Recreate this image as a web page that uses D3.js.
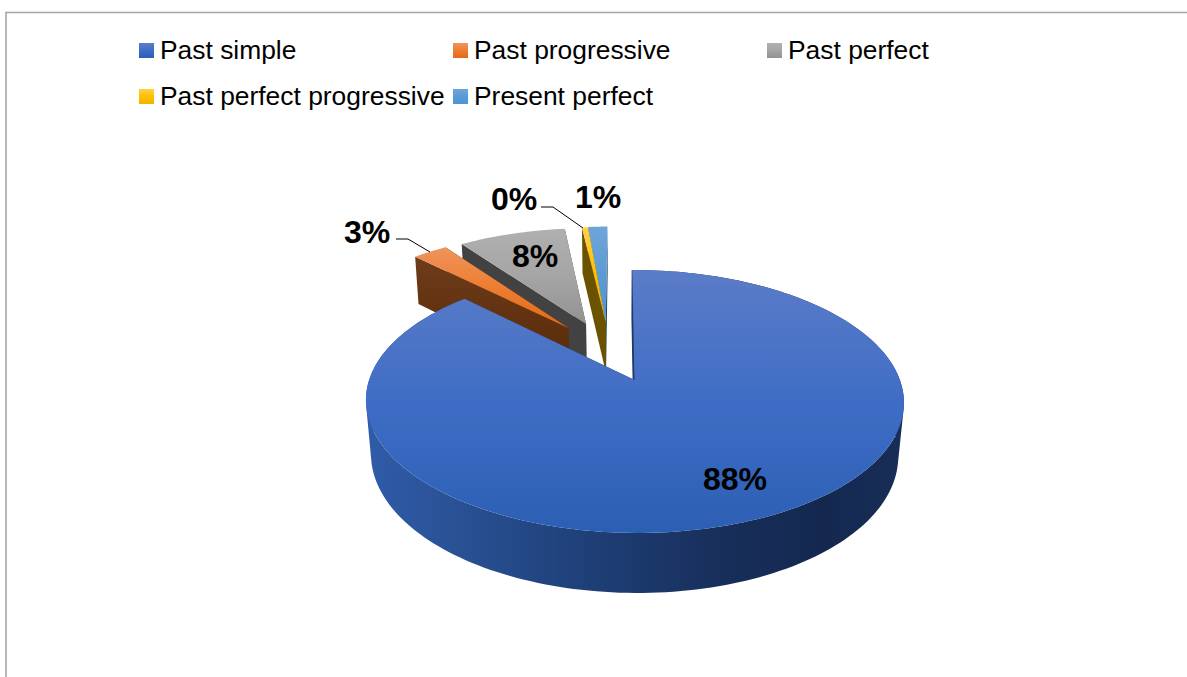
<!DOCTYPE html>
<html><head><meta charset="utf-8">
<script src="https://d3js.org/d3.v7.min.js"></script>
<style>html,body{margin:0;padding:0;background:#fff}svg{display:block}text{font-family:"Liberation Sans",Arial,sans-serif;fill:#000}</style>
</head><body><svg id="c" width="1187" height="677"></svg>
<script>
const categories = ["Past simple","Past progressive","Past perfect","Past perfect progressive","Present perfect"];
const shares = [87.5, 2.6, 8.0, 0.45, 1.45];
const labelRounded = [88, 3, 8, 0, 1];

// appearance and layout
const explodeU = [0, -0.262, -0.192, -0.112, -0.112];
const explodeV = [0, 0.435, 0.471, 0.485, 0.49];
const topColors = [["#5b7cc8","#3f6dc5","#2b5fb4"],["#f0945c","#ed7d31","#e06a18"],["#b0b0b0","#a5a5a5","#929292"],["#ffd04a","#ffc000","#f0b400"],["#6fa5d9","#5b9bd5","#4a94d8"]];
const startFace = ["#1f3864","#5f2f0f","#424242","#6b5200","#2b5a88"];
const endFace = ["#1f3864","#5f2f0f","#424242","#6b5200","#1e3f60"];
const legendX = [139,453,767], legendY = [43,89];
const labelPos = [[735,490],[367,243],[535,267],[514,210],[598,208]];
const leaders = [null,[[396,239],[408,239],[430,252]],null,[[541,207],[553,207],[583,228]],null];

const R=265.4, A=128, P=0.163, Q=0.02, D=54.5, CX=618.5, OX=16, CY=380;
function project(u,v,z){
  const k=1/(1+P*v+Q*z);
  return [CX+(R*u+OX)*k, CY-A*v*k+D*z*k];
}
const svg=d3.select("#c"), defs=svg.append("defs");
const line=d3.line();

function vgrad(id,cols,y1,y2){
  const g=defs.append("linearGradient").attr("id",id).attr("gradientUnits","userSpaceOnUse").attr("x1",0).attr("x2",0).attr("y1",y1).attr("y2",y2);
  cols.forEach((c,i)=>g.append("stop").attr("offset",i/(cols.length-1)).attr("stop-color",c));
}
const wall=defs.append("linearGradient").attr("id","wall").attr("gradientUnits","userSpaceOnUse").attr("x1",368).attr("x2",904).attr("y1",0).attr("y2",0);
[[0,"#2f5ba8"],[0.15,"#2a5296"],[0.4,"#1f4078"],[0.65,"#182f5c"],[0.85,"#14284f"],[1,"#182e58"]].forEach(s=>wall.append("stop").attr("offset",s[0]).attr("stop-color",s[1]));
vgrad("sideO",["#6e3d1c","#5c2d0b"],250,350);

// frame
svg.append("path").attr("d","M6,677V12.5H1187").attr("fill","none").attr("stroke","#a6a6a6").attr("stroke-width",1.6);

// legend
categories.forEach((c,i)=>{
  const col=i<3?i:i-3, row=i<3?0:1;
  const x=legendX[col], y=legendY[row];
  vgrad("lg"+i,topColors[i],y,y+15);
  svg.append("rect").attr("x",x).attr("y",y).attr("width",15).attr("height",15).attr("fill",`url(#lg${i})`);
  svg.append("text").attr("x",x+21).attr("y",y+16).attr("font-size",26.4).text(c);
});

// pie
const arcs=d3.pie().sort(null).value(d=>d)(shares);
const steps=d3.scaleLinear().domain([0,1]);
function rimPoints(a,ou,ov,z){
  steps.range([a.startAngle,a.endAngle]);
  const n=Math.max(2,Math.ceil((a.endAngle-a.startAngle)*40));
  return d3.range(n+1).map(i=>{const t=steps(i/n);return project(ou+Math.sin(t),ov+Math.cos(t),z);});
}
const order=[4,3,2,1,0];
order.forEach(i=>{
  const a=arcs[i], ou=explodeU[i], ov=explodeV[i];
  const rim=rimPoints(a,ou,ov,0), rimB=rimPoints(a,ou,ov,1);
  const apex=project(ou,ov,0), apexB=project(ou,ov,1);
  const g=svg.append("g");
  if(i===0){
    // the rim wall: one path of many quads, so no seams and a straight silhouette
    const d=d3.range(rim.length-1).map(j=>{
      const q=[rim[j],rim[j+1],rimB[j+1],rimB[j]];
      const flip=d3.polygonArea(q)<0;
      return line(flip?q.slice().reverse():q)+"Z";
    }).join("");
    g.append("path").attr("d",d).attr("fill","url(#wall)");
  }
  // radial faces, end-edge first so the start-edge one sits in front
  g.append("path").attr("d",line([apex,rim[rim.length-1],rimB[rimB.length-1],apexB])+"Z").attr("fill",endFace[i]);
  const sf=g.append("path").attr("d",line([apex,rim[0],rimB[0],apexB])+"Z").attr("fill",i===1?"url(#sideO)":startFace[i]);
  if(i===0) sf.attr("stroke",startFace[0]).attr("stroke-width",1.2);
  const ys=rim.concat([apex]).map(p=>p[1]);
  const y1=i===0?270:d3.min(ys), y2=i===0?533:d3.max(ys);
  vgrad("top"+i,topColors[i],y1,y2);
  g.append("path").attr("d",line([apex].concat(rim))+"Z").attr("fill",`url(#top${i})`);
});

// leaders
leaders.forEach(l=>{ if(l) svg.append("path").attr("d",line(l)).attr("fill","none").attr("stroke","#000").attr("stroke-width",1); });

// data labels
labelRounded.forEach((v,i)=>{
  svg.append("text").attr("x",labelPos[i][0]).attr("y",labelPos[i][1]).attr("text-anchor","middle").attr("font-size",32).attr("font-weight","bold").text(v+"%");
});
</script></body></html>
